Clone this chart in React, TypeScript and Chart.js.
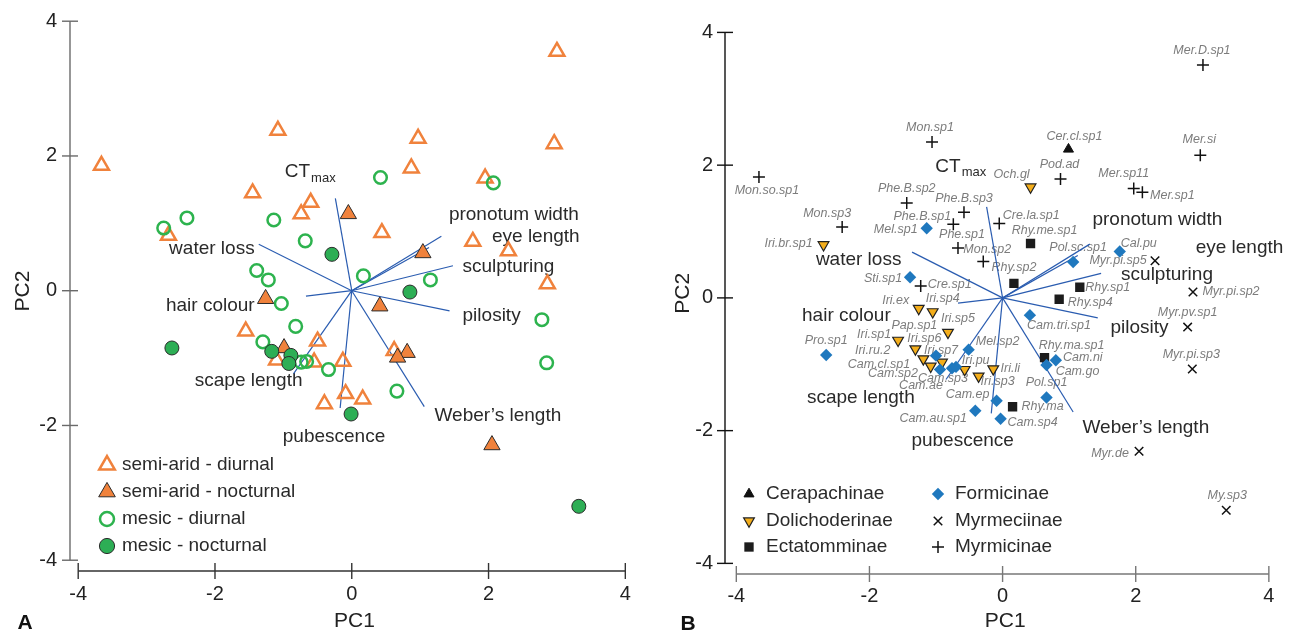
import React, { useEffect, useRef } from 'react';
import { Chart, registerables } from 'chart.js';
import { drawPoint } from 'chart.js/helpers';

Chart.register(...registerables);

const FONT = '"Liberation Sans", Arial, Helvetica, sans-serif';

// ---------------- Shared axis ticks ----------------
const axisTicks = [-4, -2, 0, 2, 4];

// ---------------- Loadings (biplot vectors) ----------------
const loadingNames = ['CTmax', 'water loss', 'pronotum width', 'eye length', 'sculpturing', 'pilosity', 'hair colour', 'scape length', 'pubescence', 'Weber\u2019s length'];
const loadingPC1 = [-0.24, -1.36, 1.31, 1.13, 1.48, 1.43, -0.67, -0.85, -0.17, 1.06];
const loadingPC2 = [1.37, 0.69, 0.81, 0.64, 0.37, -0.30, -0.08, -1.23, -1.74, -1.72];

// label anchors (data units) for the loading names
const loadLabelAx = [-0.98, -1.42, 1.42, 2.05, 1.62, 1.62, -1.42, -0.72, -0.26, 1.21];
const loadLabelAy = [1.76, 0.62, 1.13, 0.80, 0.355, -0.37, -0.22, -1.33, -2.17, -1.86];
const loadLabelBx = [-1.01, -1.52, 1.35, 2.90, 1.78, 1.62, -1.68, -1.32, -0.60, 1.20];
const loadLabelBy = [1.98, 0.58, 1.17, 0.75, 0.35, -0.45, -0.27, -1.50, -2.15, -1.95];
const loadLabelAlign = ['left', 'right', 'left', 'left', 'left', 'left', 'right', 'right', 'center', 'left'];

// ---------------- Panel A data ----------------
const semiAridDiurnal: [number, number][] = [
  [3.00, 3.55], [-3.66, 1.86], [-1.08, 2.38], [0.97, 2.26], [2.96, 2.18], [0.87, 1.82], [1.95, 1.67],
  [-1.45, 1.45], [-0.60, 1.31], [-0.74, 1.14], [-2.68, 0.82], [0.44, 0.86], [1.77, 0.73], [2.29, 0.59],
  [2.86, 0.10], [-1.55, -0.60], [-0.50, -0.75], [-1.10, -1.03], [-0.55, -1.06], [-0.13, -1.05],
  [0.62, -0.89], [-0.09, -1.53], [0.16, -1.61], [-0.40, -1.68],
];
const semiAridNocturnal: [number, number][] = [
  [-0.05, 1.14], [1.04, 0.56], [-1.26, -0.12], [0.41, -0.23], [-0.99, -0.85], [0.81, -0.92], [0.67, -0.99], [2.05, -2.29],
];
const mesicDiurnal: [number, number][] = [
  [0.42, 1.68], [2.07, 1.60], [-2.41, 1.08], [-2.75, 0.93], [-1.14, 1.05], [-0.68, 0.74], [-1.39, 0.30],
  [-1.22, 0.16], [0.17, 0.22], [1.15, 0.16], [-1.03, -0.19], [2.78, -0.43], [-0.82, -0.53], [-1.30, -0.76],
  [-0.74, -1.06], [-0.66, -1.05], [-0.34, -1.17], [0.66, -1.49], [2.85, -1.07],
];
const mesicNocturnal: [number, number][] = [
  [-0.29, 0.54], [0.85, -0.02], [-2.63, -0.85], [-1.17, -0.90], [-0.89, -0.96], [-0.92, -1.08], [-0.01, -1.83], [3.32, -3.20],
];

// ---------------- Panel B data ----------------
const cerapNames = ['Cer.cl.sp1'];
const cerapPC1 = [0.99];
const cerapPC2 = [2.24];

const dolichoNames = ['Och.gl', 'Iri.br.sp1', 'Iri.ex', 'Iri.sp4', 'Iri.sp5', 'Iri.sp1', 'Pap.sp1', 'Iri.sp6', 'Iri.ru.2', 'Iri.sp7', 'Iri.pu', 'Iri.sp3', 'Iri.li'];
const dolichoPC1 = [0.42, -2.69, -1.26, -1.05, -0.82, -1.57, -1.31, -1.19, -1.08, -0.91, -0.57, -0.36, -0.14];
const dolichoPC2 = [1.67, 0.80, -0.16, -0.21, -0.52, -0.64, -0.77, -0.92, -1.03, -0.97, -1.08, -1.18, -1.07];

const ectaNames = ['Rhy.me.sp1', 'Rhy.sp2', 'Rhy.sp1', 'Rhy.sp4', 'Rhy.ma.sp1', 'Rhy.ma'];
const ectaPC1 = [0.42, 0.17, 1.16, 0.85, 0.63, 0.15];
const ectaPC2 = [0.82, 0.22, 0.16, -0.02, -0.90, -1.64];

const formiNames = ['Pro.sp1', 'Cam.cl.sp1', 'Mel.sp2', 'Cam.sp2', 'Cam.sp3', 'Cam.ae', 'Cam.ep', 'Cam.au.sp1', 'Cam.sp4', 'Cam.tri.sp1', 'Cam.go', 'Cam.ni', 'Pol.sp1', 'Mel.sp1', 'Sti.sp1', 'Pol.sc.sp1', 'Cal.pu'];
const formiPC1 = [-2.65, -1.00, -0.51, -0.94, -0.76, -0.70, -0.09, -0.41, -0.03, 0.41, 0.66, 0.80, 0.66, -1.14, -1.39, 1.06, 1.76];
const formiPC2 = [-0.86, -0.87, -0.78, -1.08, -1.06, -1.04, -1.55, -1.70, -1.82, -0.26, -1.01, -0.94, -1.50, 1.05, 0.31, 0.54, 0.70];

const myrmeNames = ['Myr.pi.sp5', 'Myr.pi.sp2', 'Myr.pv.sp1', 'Myr.pi.sp3', 'Myr.de', 'My.sp3'];
const myrmePC1 = [2.29, 2.86, 2.78, 2.85, 2.05, 3.36];
const myrmePC2 = [0.56, 0.09, -0.44, -1.07, -2.31, -3.20];

const myrmiNames = ['Mer.D.sp1', 'Mon.sp1', 'Mer.si', 'Mon.so.sp1', 'Pod.ad', 'Mer.sp11', 'Mer.sp1', 'Phe.B.sp2', 'Phe.B.sp3', 'Phe.B.sp1', 'Phe.sp1', 'Mon.sp2', 'Mon.sp3', 'Cre.la.sp1', 'Cre.sp1'];
const myrmiPC1 = [3.01, -1.06, 2.97, -3.66, 0.87, 1.97, 2.10, -1.44, -0.58, -0.74, -0.67, -0.29, -2.41, -0.05, -1.23];
const myrmiPC2 = [3.51, 2.35, 2.15, 1.82, 1.79, 1.65, 1.59, 1.43, 1.29, 1.11, 0.75, 0.55, 1.07, 1.12, 0.18];

// species label placement relative to marker (pixels)
const labelOffset: Record<string, [number, number]> = {
  'Cer.cl.sp1': [6, -13],
  'Och.gl': [-19, -13], 'Iri.br.sp1': [-35, -1], 'Iri.ex': [-23, -8], 'Iri.sp4': [10, -13], 'Iri.sp5': [10, -14],
  'Iri.sp1': [-24, -6], 'Pap.sp1': [-1, -23], 'Iri.sp6': [1, -20], 'Iri.ru.2': [-58, -16], 'Iri.sp7': [-1, -12],
  'Iri.pu': [11, -9], 'Iri.sp3': [19, 5], 'Iri.li': [17, 0],
  'Rhy.me.sp1': [14, -13], 'Rhy.sp2': [0, -16], 'Rhy.sp1': [28, 0], 'Rhy.sp4': [31, 3], 'Rhy.ma.sp1': [27, -12], 'Rhy.ma': [30, 0],
  'Pro.sp1': [0, -14], 'Cam.cl.sp1': [-57, 9], 'Mel.sp2': [29, -8], 'Cam.sp2': [-47, 4], 'Cam.sp3': [-9, 10],
  'Cam.ae': [-35, 19], 'Cam.ep': [-29, -6], 'Cam.au.sp1': [-42, 8], 'Cam.sp4': [32, 4], 'Cam.tri.sp1': [29, 10],
  'Cam.go': [31, 7], 'Cam.ni': [27, -3], 'Pol.sp1': [0, -15], 'Mel.sp1': [-31, 1], 'Sti.sp1': [-27, 1],
  'Pol.sc.sp1': [5, -15], 'Cal.pu': [19, -8],
  'Myr.pi.sp5': [-37, 0], 'Myr.pi.sp2': [38, 0], 'Myr.pv.sp1': [0, -15], 'Myr.pi.sp3': [-1, -14], 'Myr.de': [-29, 2], 'My.sp3': [1, -15],
  'Mer.D.sp1': [-1, -14], 'Mon.sp1': [-2, -14], 'Mer.si': [-1, -16], 'Mon.so.sp1': [8, 13], 'Pod.ad': [-1, -15],
  'Mer.sp11': [-10, -15], 'Mer.sp1': [30, 3], 'Phe.B.sp2': [0, -14], 'Phe.B.sp3': [0, -14], 'Phe.B.sp1': [-31, -8],
  'Phe.sp1': [4, -14], 'Mon.sp2': [4, -12], 'Mon.sp3': [-15, -13], 'Cre.la.sp1': [32, -8], 'Cre.sp1': [29, -1],
};

// ---------------- Styles ----------------
type Sty = { pointStyle: string; radius: number; borderWidth: number; fill: string; stroke: string; rotation?: number; legendRadius?: number };
const ORANGE = '#F0823C';
const GREEN = '#2DB34E';
const styA: Record<string, Sty> = {
  sad: { pointStyle: 'triangle', radius: 8.6, borderWidth: 2.5, fill: 'rgba(0,0,0,0)', stroke: ORANGE, legendRadius: 9 },
  san: { pointStyle: 'triangle', radius: 9.4, borderWidth: 1, fill: ORANGE, stroke: '#2b2b2b', legendRadius: 9.6 },
  med: { pointStyle: 'circle', radius: 6.3, borderWidth: 2.5, fill: 'rgba(0,0,0,0)', stroke: GREEN, legendRadius: 7 },
  men: { pointStyle: 'circle', radius: 7, borderWidth: 1, fill: '#2DAE55', stroke: '#2b2b2b', legendRadius: 7.6 },
};
const styB: Record<string, Sty> = {
  cer: { pointStyle: 'triangle', radius: 5.8, borderWidth: 1, fill: '#111', stroke: '#111' },
  dol: { pointStyle: 'triangle', radius: 6.2, borderWidth: 1.2, fill: '#F4AE1B', stroke: '#222', rotation: 180 },
  ect: { pointStyle: 'rect', radius: 6.6, borderWidth: 0, fill: '#1c1c1c', stroke: '#1c1c1c' },
  for: { pointStyle: 'rectRot', radius: 6.2, borderWidth: 0, fill: '#1F78BE', stroke: '#1F78BE' },
  mye: { pointStyle: 'crossRot', radius: 6, borderWidth: 1.5, fill: '#111', stroke: '#111' },
  myi: { pointStyle: 'cross', radius: 6, borderWidth: 1.5, fill: '#111', stroke: '#111' },
};

function pts(pairs: [number, number][]) {
  return pairs.map(([x, y]) => ({ x, y }));
}
function ptsXY(xs: number[], ys: number[]) {
  return xs.map((x, i) => ({ x, y: ys[i] }));
}
function pointDs(data: any[], st: Sty) {
  return {
    data,
    showLine: false,
    pointStyle: st.pointStyle,
    pointRadius: st.radius,
    pointHoverRadius: st.radius,
    pointBorderWidth: st.borderWidth,
    pointBackgroundColor: st.fill,
    pointBorderColor: st.stroke,
    pointRotation: st.rotation || 0,
    order: 1,
  };
}
function vectorDatasets() {
  return loadingNames.map((_, i) => ({
    data: [{ x: 0, y: 0 }, { x: loadingPC1[i], y: loadingPC2[i] }],
    showLine: true,
    borderColor: '#2A5CB0',
    borderWidth: 1.2,
    pointRadius: 0,
    pointHoverRadius: 0,
    fill: false,
    order: 5,
  }));
}

function drawMarker(ctx: CanvasRenderingContext2D, st: Sty, x: number, y: number) {
  ctx.save();
  ctx.fillStyle = st.fill;
  ctx.strokeStyle = st.stroke;
  ctx.lineWidth = st.borderWidth;
  drawPoint(ctx, { pointStyle: st.pointStyle as any, radius: st.legendRadius ?? st.radius, rotation: st.rotation || 0, borderWidth: st.borderWidth } as any, x, y);
  ctx.restore();
}

const decorPlugin = {
  id: 'decor',
  beforeDatasetsDraw(chart: any, _args: any, o: any) {
    const ctx: CanvasRenderingContext2D = chart.ctx;
    const xs = chart.scales.x;
    const ys = chart.scales.y;
    const area = chart.chartArea;
    ctx.save();
    // y axis
    ctx.lineWidth = 1.4;
    ctx.strokeStyle = o.yAxisColor;
    ctx.beginPath();
    ctx.moveTo(area.left, ys.getPixelForValue(axisTicks[0]));
    ctx.lineTo(area.left, ys.getPixelForValue(axisTicks[axisTicks.length - 1]));
    ctx.stroke();
    for (const t of axisTicks) {
      const p = ys.getPixelForValue(t);
      ctx.beginPath();
      ctx.moveTo(area.left - 8, p);
      ctx.lineTo(area.left + 8, p);
      ctx.stroke();
    }
    // x axis
    ctx.strokeStyle = o.xAxisColor;
    ctx.beginPath();
    ctx.moveTo(xs.getPixelForValue(axisTicks[0]), area.bottom);
    ctx.lineTo(xs.getPixelForValue(axisTicks[axisTicks.length - 1]), area.bottom);
    ctx.stroke();
    for (const t of axisTicks) {
      const p = xs.getPixelForValue(t);
      ctx.beginPath();
      ctx.moveTo(p, area.bottom - 8);
      ctx.lineTo(p, area.bottom + 8);
      ctx.stroke();
    }
    // loading labels
    ctx.fillStyle = '#2a2a2a';
    ctx.textBaseline = 'middle';
    loadingNames.forEach((name, i) => {
      const px = xs.getPixelForValue(o.labelX[i]);
      const py = ys.getPixelForValue(o.labelY[i]);
      ctx.textAlign = loadLabelAlign[i] as CanvasTextAlign;
      if (name === 'CTmax') {
        ctx.font = `19px ${FONT}`;
        ctx.textAlign = 'left';
        ctx.fillText('CT', px, py);
        const w = ctx.measureText('CT').width;
        ctx.font = `13px ${FONT}`;
        ctx.fillText('max', px + w + 1, py + 6);
      } else {
        ctx.font = `19px ${FONT}`;
        ctx.fillText(name, px, py);
      }
    });
    // species labels
    if (o.species) {
      ctx.fillStyle = '#7c7c7c';
      ctx.font = `italic 12.5px ${FONT}`;
      ctx.textAlign = 'center';
      ctx.textBaseline = 'middle';
      for (const grp of o.species) {
        grp.names.forEach((n: string, i: number) => {
          const off = labelOffset[n] || [0, -14];
          const px = xs.getPixelForValue(grp.x[i]) + off[0];
          const py = ys.getPixelForValue(grp.y[i]) + off[1];
          ctx.fillText(n, px, py);
        });
      }
    }
    ctx.restore();
  },
  afterDraw(chart: any, _args: any, o: any) {
    const ctx: CanvasRenderingContext2D = chart.ctx;
    ctx.save();
    // legend
    ctx.font = `19px ${FONT}`;
    ctx.textBaseline = 'middle';
    ctx.textAlign = 'left';
    for (const it of o.legend) {
      drawMarker(ctx, it.style, it.mx, it.y);
      ctx.fillStyle = '#2a2a2a';
      ctx.fillText(it.label, it.tx, it.y);
    }
    // panel letter
    ctx.font = `bold 21px ${FONT}`;
    ctx.textAlign = 'center';
    ctx.fillStyle = '#111';
    ctx.fillText(o.letter, o.letterX, o.letterY);
    ctx.restore();
  },
};

function makeScales(o: { xmin: number; xmax: number; ymin: number; ymax: number; yWidth: number; xHeight: number; xTickPad: number; yTickPad: number }) {
  const tickFont = { family: FONT, size: 20 };
  const titleFont = { family: FONT, size: 21 };
  return {
    x: {
      type: 'linear',
      min: o.xmin,
      max: o.xmax,
      afterBuildTicks: (s: any) => { s.ticks = axisTicks.map((v) => ({ value: v })); },
      afterFit: (s: any) => { s.height = o.xHeight; s.paddingLeft = 0; s.paddingRight = 0; },
      grid: { display: false, drawTicks: false },
      border: { display: false },
      ticks: { font: tickFont, color: '#222', padding: o.xTickPad, maxRotation: 0, autoSkip: false },
      title: { display: true, text: 'PC1', font: titleFont, color: '#222', padding: { top: 0, bottom: 3 } },
    },
    y: {
      type: 'linear',
      min: o.ymin,
      max: o.ymax,
      afterBuildTicks: (s: any) => { s.ticks = axisTicks.map((v) => ({ value: v })); },
      afterFit: (s: any) => { s.width = o.yWidth; s.paddingTop = 0; s.paddingBottom = 0; },
      grid: { display: false, drawTicks: false },
      border: { display: false },
      ticks: { font: tickFont, color: '#222', padding: o.yTickPad, autoSkip: false },
      title: { display: true, text: 'PC2', font: titleFont, color: '#222', padding: { top: 11, bottom: 0 } },
    },
  };
}

function configA(): any {
  return {
    type: 'scatter',
    data: {
      datasets: [
        pointDs(pts(mesicNocturnal), styA.men),
        pointDs(pts(semiAridNocturnal), styA.san),
        pointDs(pts(mesicDiurnal), styA.med),
        pointDs(pts(semiAridDiurnal), styA.sad),
        ...vectorDatasets(),
      ],
    },
    options: {
      responsive: false,
      animation: false,
      events: [],
      layout: { padding: { top: 9, right: 21, left: 0, bottom: 0 } },
      scales: makeScales({ xmin: -4.12, xmax: 4.2, ymin: -4.16, ymax: 4.15, yWidth: 70, xHeight: 66, xTickPad: 11, yTickPad: 13 }),
      plugins: {
        legend: { display: false },
        tooltip: { enabled: false },
        decor: {
          yAxisColor: '#6a6a6a',
          xAxisColor: '#333',
          labelX: loadLabelAx,
          labelY: loadLabelAy,
          legend: [
            { label: 'semi-arid - diurnal', style: styA.sad, mx: 107, tx: 122, y: 465 },
            { label: 'semi-arid - nocturnal', style: styA.san, mx: 107, tx: 122, y: 492 },
            { label: 'mesic - diurnal', style: styA.med, mx: 107, tx: 122, y: 519 },
            { label: 'mesic - nocturnal', style: styA.men, mx: 107, tx: 122, y: 546 },
          ],
          letter: 'A',
          letterX: 25,
          letterY: 623,
        },
      },
    },
    plugins: [decorPlugin],
  };
}

function configB(): any {
  return {
    type: 'scatter',
    data: {
      datasets: [
        pointDs(ptsXY(myrmiPC1, myrmiPC2), styB.myi),
        pointDs(ptsXY(myrmePC1, myrmePC2), styB.mye),
        pointDs(ptsXY(formiPC1, formiPC2), styB.for),
        pointDs(ptsXY(ectaPC1, ectaPC2), styB.ect),
        pointDs(ptsXY(dolichoPC1, dolichoPC2), styB.dol),
        pointDs(ptsXY(cerapPC1, cerapPC2), styB.cer),
        ...vectorDatasets(),
      ],
    },
    options: {
      responsive: false,
      animation: false,
      events: [],
      layout: { padding: { top: 12.5, right: 7, left: 0, bottom: 0 } },
      scales: makeScales({ xmin: -4.17, xmax: 4.25, ymin: -4.16, ymax: 4.3, yWidth: 65, xHeight: 63, xTickPad: 10, yTickPad: 12 }),
      plugins: {
        legend: { display: false },
        tooltip: { enabled: false },
        decor: {
          yAxisColor: '#111',
          xAxisColor: '#777',
          labelX: loadLabelBx,
          labelY: loadLabelBy,
          species: [
            { names: cerapNames, x: cerapPC1, y: cerapPC2 },
            { names: dolichoNames, x: dolichoPC1, y: dolichoPC2 },
            { names: ectaNames, x: ectaPC1, y: ectaPC2 },
            { names: formiNames, x: formiPC1, y: formiPC2 },
            { names: myrmeNames, x: myrmePC1, y: myrmePC2 },
            { names: myrmiNames, x: myrmiPC1, y: myrmiPC2 },
          ],
          legend: [
            { label: 'Cerapachinae', style: styB.cer, mx: 89, tx: 106, y: 494 },
            { label: 'Dolichoderinae', style: styB.dol, mx: 89, tx: 106, y: 521 },
            { label: 'Ectatomminae', style: styB.ect, mx: 89, tx: 106, y: 547 },
            { label: 'Formicinae', style: styB.for, mx: 278, tx: 295, y: 494 },
            { label: 'Myrmeciinae', style: styB.mye, mx: 278, tx: 295, y: 521 },
            { label: 'Myrmicinae', style: styB.myi, mx: 278, tx: 295, y: 547 },
          ],
          letter: 'B',
          letterX: 28,
          letterY: 624,
        },
      },
    },
    plugins: [decorPlugin],
  };
}

function Panel(props: { make: () => any; left: number; width: number; height: number }) {
  const ref = useRef<HTMLCanvasElement | null>(null);
  useEffect(() => {
    if (!ref.current) return;
    const chart = new Chart(ref.current, props.make());
    return () => chart.destroy();
  }, []);
  return (
    <canvas
      ref={ref}
      width={props.width}
      height={props.height}
      style={{ position: 'absolute', left: props.left, top: 0, width: props.width, height: props.height }}
    />
  );
}

export default function App() {
  return (
    <div style={{ position: 'fixed', left: 0, top: 0, width: 1293, height: 637, background: '#fff', overflow: 'hidden' }}>
      <Panel make={configA} left={0} width={660} height={637} />
      <Panel make={configB} left={660} width={633} height={637} />
    </div>
  );
}
